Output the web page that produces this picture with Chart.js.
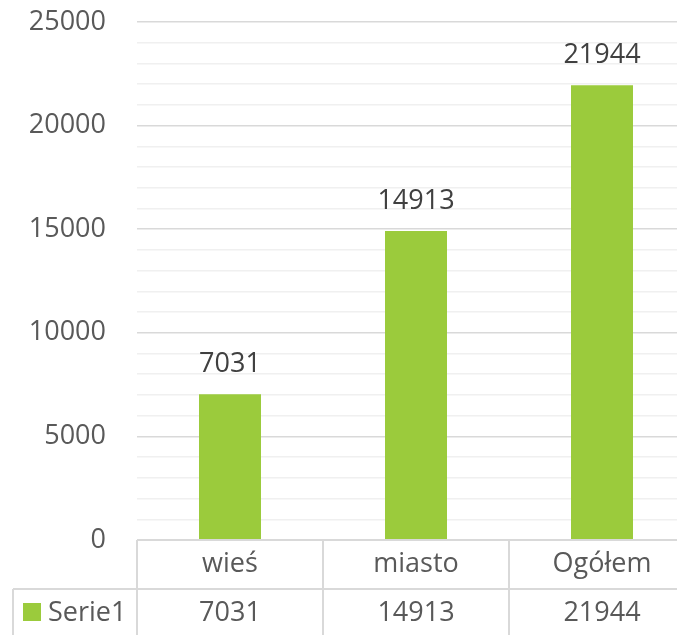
<!DOCTYPE html>
<html lang="pl">
<head>
  <meta charset="utf-8">
  <title>Serie1</title>
  <script src="https://cdn.jsdelivr.net/npm/chart.js"></script>
  <style>
    html, body {
      margin: 0;
      padding: 0;
      background: #fff;
      overflow: hidden;
    }
    .wrap {
      width: 695px;
      height: 635px;
      position: relative;
    }
  </style>
</head>
<body>

<div class="wrap">
  <canvas id="chart"></canvas>
</div>

<script>
  const categories = ['wieś', 'miasto', 'Ogółem'];
  const serie1 = [7031, 14913, 21944];
  const seriesName = 'Serie1';
  const yTicks = [0, 5000, 10000, 15000, 20000, 25000];

  const FONT = '"Open Sans", sans-serif';
  const green = '#9bcb3c';
  const lineColor = '#d9d9d9';

  // wartości nad słupkami
  const valueLabels = {
    id: 'valueLabels',
    afterDatasetsDraw(chart) {
      const ctx = chart.ctx;
      const meta = chart.getDatasetMeta(0);
      ctx.save();
      ctx.font = '27px ' + FONT;
      ctx.fillStyle = '#404040';
      ctx.textAlign = 'center';
      ctx.textBaseline = 'middle';
      meta.data.forEach((bar, i) => {
        ctx.fillText(String(serie1[i]), bar.x, bar.y - 30);
      });
      ctx.restore();
    }
  };

  // tabela danych pod wykresem
  const dataTable = {
    id: 'dataTable',
    afterDraw(chart) {
      const ctx = chart.ctx;
      const area = chart.chartArea;
      const x = chart.scales.x;
      const n = categories.length;
      const cw = (area.right - area.left) / n;
      const top = area.bottom;
      const rowH = 49;
      const mid = top + rowH;
      const bottom = chart.height + 5;
      const left = 13;

      ctx.save();
      ctx.strokeStyle = lineColor;
      ctx.lineWidth = 2;
      ctx.beginPath();
      ctx.moveTo(area.left, top);
      ctx.lineTo(area.right, top);
      ctx.moveTo(left, mid);
      ctx.lineTo(area.right, mid);
      ctx.moveTo(left, mid);
      ctx.lineTo(left, bottom);
      for (let i = 0; i <= n; i++) {
        const bx = area.left + i * cw;
        ctx.moveTo(bx, top);
        ctx.lineTo(bx, bottom);
      }
      ctx.stroke();

      ctx.font = '27px ' + FONT;
      ctx.fillStyle = '#595959';
      ctx.textAlign = 'center';
      ctx.textBaseline = 'middle';
      categories.forEach((c, i) => {
        const cx = x.getPixelForValue(i);
        ctx.fillText(c, cx, top + rowH / 2);
        ctx.fillText(String(serie1[i]), cx, mid + 24);
      });

      // legenda w tabeli
      ctx.fillStyle = green;
      ctx.fillRect(23, mid + 14, 18, 18);
      ctx.fillStyle = '#595959';
      ctx.textAlign = 'left';
      ctx.fillText(seriesName, 48, mid + 24);
      ctx.restore();
    }
  };

  new Chart(document.getElementById('chart'), {
    type: 'bar',
    data: {
      labels: categories,
      datasets: [{
        label: seriesName,
        data: serie1,
        backgroundColor: green,
        categoryPercentage: 1,
        barPercentage: 1 / 3
      }]
    },
    options: {
      responsive: true,
      maintainAspectRatio: false,
      animation: false,
      layout: {
        padding: { top: 22, bottom: 95, left: 0, right: 0 }
      },
      plugins: {
        legend: { display: false },
        tooltip: { enabled: false }
      },
      scales: {
        x: {
          display: false
        },
        y: {
          min: 0,
          max: 25000,
          afterFit(scale) { scale.width = 137; },
          border: { display: false },
          grid: {
            drawTicks: true,
            tickLength: 31,
            tickColor: 'rgba(0,0,0,0)',
            lineWidth: 1.5,
            color: c => (yTicks.includes(c.tick.value) ? '#d9d9d9' : '#f0f0f0')
          },
          ticks: {
            stepSize: 1000,
            autoSkip: false,
            padding: 0,
            color: '#595959',
            font: { family: FONT, size: 27, lineHeight: 1 },
            callback: v => (yTicks.includes(v) ? String(v) : '')
          }
        }
      }
    },
    plugins: [valueLabels, dataTable]
  });
</script>

</body>
</html>
